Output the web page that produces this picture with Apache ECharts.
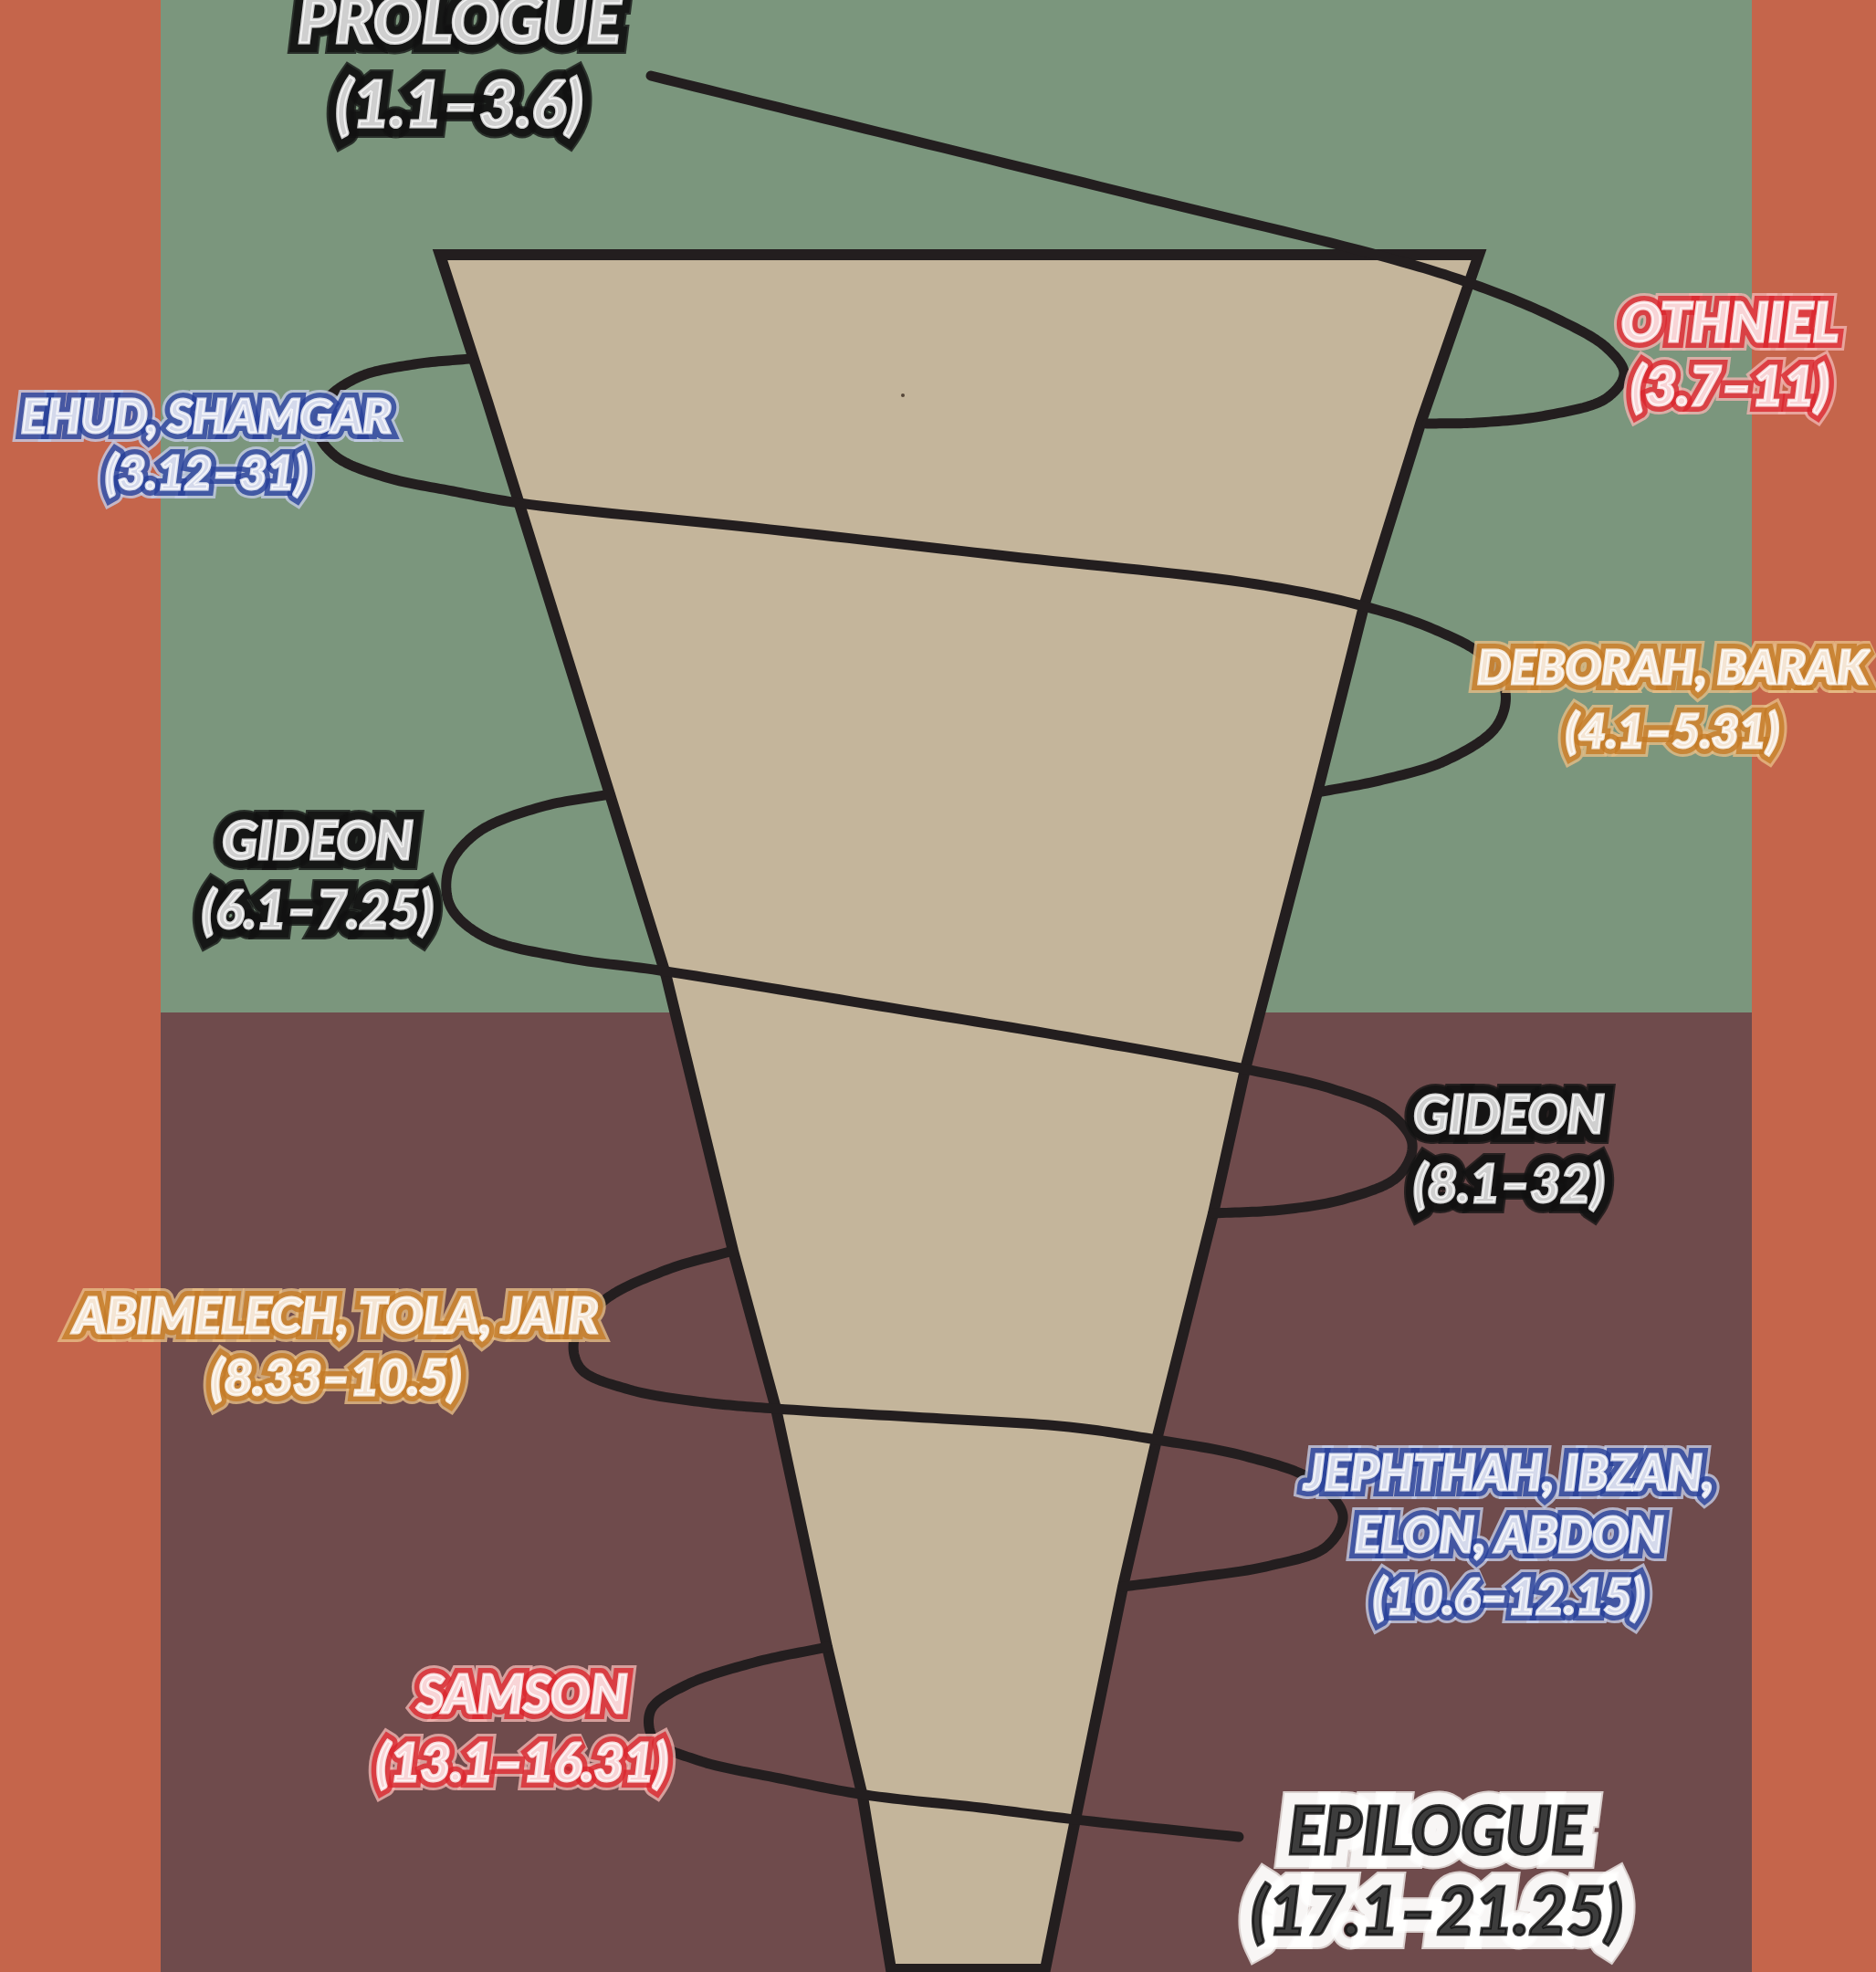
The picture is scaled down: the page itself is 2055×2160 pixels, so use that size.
<!DOCTYPE html>
<html>
<head>
<meta charset="utf-8">
<script src="https://cdn.jsdelivr.net/npm/echarts@6/dist/echarts.min.js"></script>
<style>
html, body { margin: 0; padding: 0; background: #c5654b; }
#main { width: 2055px; height: 2160px; }
</style>
</head>
<body>
<div id="main"></div>
<script>
// all values are in poster units (pixels of the 2055 x 2160 picture, y going down)
var panelRects = [[176, 0, 1919, 1109], [176, 1109, 1919, 2160]];
var panelColors = ['#7b967d', '#6f4b4c'];

// the cone, left and right edges from top to bottom
var coneLeft = [[482, 279], [534, 440], [668, 870], [730, 1070], [803, 1370], [850, 1543], [906, 1804], [945, 1968], [976, 2157]];
var coneRight = [[1620, 279], [1557, 461], [1494, 664], [1443, 868], [1364, 1171], [1329, 1329], [1267, 1577], [1230, 1738], [1178, 1993], [1145, 2157]];
var coneDot = [[989, 433]];

// visible pieces of the spiral (the back side is hidden by the cone)
var spiralPrologue = [[713, 83], [964, 145], [1240, 213], [1515, 281], [1610, 310], [1701, 347], [1760, 381], [1779, 409], [1760, 436], [1694, 455], [1618, 463], [1563, 464]];
var spiralEhud = [[514, 393], [454, 399], [393, 413], [356, 440], [348, 472], [368, 500], [420, 522], [496, 538], [569, 551], [826, 578], [1102, 609], [1377, 640], [1494, 664], [1570, 689], [1625, 719], [1649, 758], [1639, 796], [1584, 833], [1515, 854], [1443, 868]];
var spiralGideon = [[668, 870], [592, 884], [523, 912], [492, 950], [493, 992], [530, 1026], [620, 1049], [723, 1063], [964, 1102], [1171, 1136], [1364, 1171], [1460, 1193], [1522, 1219], [1547, 1253], [1532, 1288], [1474, 1313], [1405, 1325], [1329, 1329]];
var spiralAbimelech = [[803, 1370], [730, 1391], [661, 1425], [629, 1467], [636, 1499], [689, 1522], [771, 1536], [850, 1543], [1033, 1554], [1171, 1563], [1267, 1577], [1364, 1595], [1439, 1622], [1471, 1660], [1453, 1694], [1391, 1715], [1308, 1728], [1230, 1738]];
var spiralSamson = [[906, 1804], [826, 1821], [751, 1846], [713, 1873], [716, 1905], [764, 1928], [854, 1948], [948, 1966], [1074, 1980], [1178, 1993], [1357, 2012]];
var spirals = [spiralPrologue, spiralEhud, spiralGideon, spiralAbimelech, spiralSamson];

// labels
var labelNames = ['PROLOGUE', 'OTHNIEL', 'EHUD, SHAMGAR', 'DEBORAH, BARAK', 'GIDEON', 'GIDEON', 'ABIMELECH, TOLA, JAIR', 'JEPHTHAH, IBZAN,\nELON, ABDON', 'SAMSON', 'EPILOGUE'];
var labelRanges = ['(1.1–3.6)', '(3.7–11)', '(3.12–31)', '(4.1–5.31)', '(6.1–7.25)', '(8.1–32)', '(8.33–10.5)', '(10.6–12.15)', '(13.1–16.31)', '(17.1–21.25)'];
var labelX = [503, 1895, 226, 1832, 348, 1653, 368, 1653, 572, 1574];
var labelY = [70, 390, 488, 767, 961, 1261, 1477, 1683, 1895, 2052];

var labelKind = ['black', 'red', 'blue', 'orange', 'black', 'black', 'orange', 'blue', 'red', 'white'];
var labelSize = [70, 59, 52, 52, 57, 57, 54, 53, 57, 72];
var labelLine = [92, 70, 62, 70, 76, 76, 68, 68, 75, 88];

var kinds = {
    black:  {fill: '#ffffff', border: '#111111', ring: '#151515', bw: 20, rw: 24},
    red:    {fill: '#ffffff', border: '#d9262d', ring: '#f0b4b0', bw: 14, rw: 20},
    blue:   {fill: '#ffffff', border: '#263f98', ring: '#c4cce6', bw: 14, rw: 20},
    orange: {fill: '#ffffff', border: '#c47a26', ring: '#e6bd86', bw: 14, rw: 20},
    white:  {fill: '#0d0d0d', border: '#ffffff', ring: '#f4f0ee', bw: 28, rw: 32}
};

var lineColor = '#231e1f';

var myChart = echarts.init(document.getElementById('main'));

// centripetal catmull-rom through the read points, only used to draw the curve
var spline = function (pts, n) {
    var ext = [[2 * pts[0][0] - pts[1][0], 2 * pts[0][1] - pts[1][1]]].concat(pts);
    var m = pts.length;
    ext.push([2 * pts[m - 1][0] - pts[m - 2][0], 2 * pts[m - 1][1] - pts[m - 2][1]]);
    var dist = function (a, b) {
        return Math.pow(Math.hypot(b[0] - a[0], b[1] - a[1]), 0.5) || 1e-4;
    };
    var out = [];
    for (var i = 1; i < ext.length - 2; i++) {
        var p0 = ext[i - 1], p1 = ext[i], p2 = ext[i + 1], p3 = ext[i + 2];
        var t0 = 0, t1 = t0 + dist(p0, p1), t2 = t1 + dist(p1, p2), t3 = t2 + dist(p2, p3);
        for (var j = 0; j < n; j++) {
            var t = t1 + (t2 - t1) * j / n;
            var lerp = function (a, b, ta, tb) {
                var u = (t - ta) / (tb - ta);
                return [a[0] + (b[0] - a[0]) * u, a[1] + (b[1] - a[1]) * u];
            };
            var a1 = lerp(p0, p1, t0, t1), a2 = lerp(p1, p2, t1, t2), a3 = lerp(p2, p3, t2, t3);
            var b1 = lerp(a1, a2, t0, t2), b2 = lerp(a2, a3, t1, t3);
            out.push(lerp(b1, b2, t1, t2));
        }
    }
    out.push(pts[m - 1]);
    return out;
};

// three stacked copies of each label: outer ring, coloured outline, fill
var labelLayer = function (layer) {
    var data = [];
    labelNames.forEach(function (name, i) {
        var k = kinds[labelKind[i]];
        var color, bColor, bWidth;
        if (layer === 0) { color = k.ring; bColor = k.ring; bWidth = k.rw; }
        else if (layer === 1) { color = k.border; bColor = k.border; bWidth = k.bw; }
        else { color = k.fill; bColor = k.fill; bWidth = 3; }
        data.push({
            value: [labelX[i], labelY[i]],
            label: {
                show: true,
                position: 'inside',
                formatter: name + '\n' + labelRanges[i],
                fontFamily: 'Lato, Roboto, sans-serif',
                fontStyle: 'italic',
                fontWeight: 900,
                fontSize: labelSize[i],
                lineHeight: labelLine[i],
                align: 'center',
                color: color,
                textBorderColor: bColor,
                textBorderWidth: bWidth
            }
        });
    });
    return {
        type: 'scatter',
        symbolSize: 0,
        zlevel: layer + 1,
        z: 6,
        silent: true,
        data: data
    };
};

option = {
    backgroundColor: '#c5654b',
    animation: false,
    grid: {left: 0, right: 0, top: 0, bottom: 0},
    xAxis: {type: 'value', min: 0, max: 2055, show: false},
    yAxis: {type: 'value', min: 0, max: 2160, inverse: true, show: false},
    series: [
        {
            type: 'custom',
            z: 1,
            data: panelRects,
            renderItem: function (params, api) {
                var a = api.coord([api.value(0), api.value(1)]);
                var b = api.coord([api.value(2), api.value(3)]);
                return {
                    type: 'rect',
                    shape: {x: a[0], y: a[1], width: b[0] - a[0], height: b[1] - a[1]},
                    style: {fill: panelColors[params.dataIndex]}
                };
            }
        },
        {
            type: 'custom',
            z: 2,
            data: [0],
            renderItem: function (params, api) {
                var pts = [];
                coneLeft.forEach(function (p) { pts.push(api.coord(p)); });
                coneRight.slice().reverse().forEach(function (p) { pts.push(api.coord(p)); });
                return {
                    type: 'polygon',
                    shape: {points: pts},
                    style: {fill: '#c4b59b', stroke: lineColor, lineWidth: 12, lineJoin: 'miter'}
                };
            }
        },
        {
            type: 'scatter',
            z: 3,
            symbolSize: 4,
            itemStyle: {color: '#3a2a20'},
            data: coneDot
        },
        {
            type: 'custom',
            z: 4,
            data: [0, 1, 2, 3, 4],
            renderItem: function (params, api) {
                var pts = spirals[params.dataIndex].map(function (p) { return api.coord(p); });
                return {
                    type: 'polyline',
                    shape: {points: spline(pts, 16)},
                    style: {fill: null, stroke: lineColor, lineWidth: 11, lineCap: 'round', lineJoin: 'round'}
                };
            }
        },
        labelLayer(0),
        labelLayer(1),
        labelLayer(2)
    ]
};

myChart.setOption(option);
</script>
</body>
</html>
